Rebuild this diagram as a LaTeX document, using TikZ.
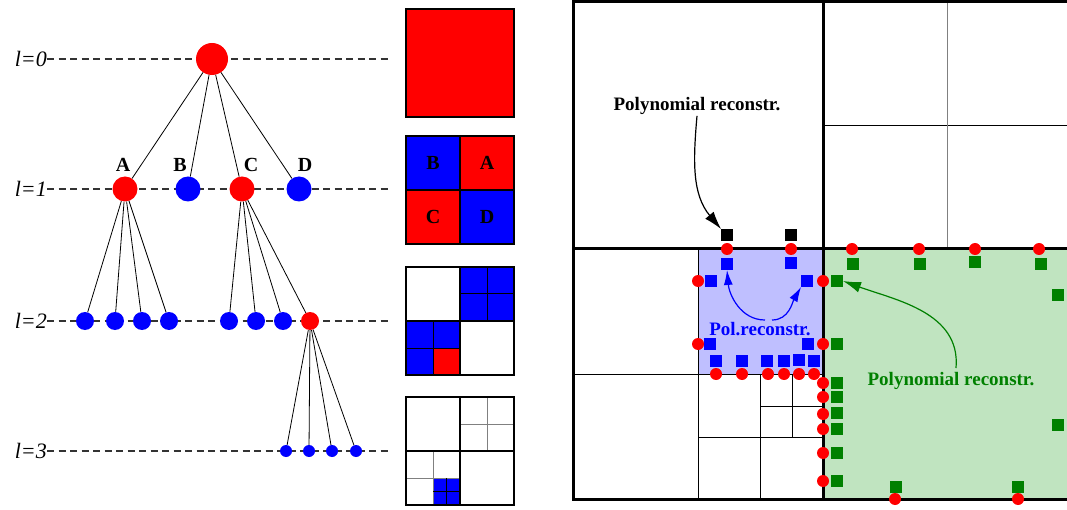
\documentclass[tikz,border=0pt]{standalone}
\usepackage{fontspec}
\setmainfont{Liberation Serif}
\usetikzlibrary{arrows.meta}
\definecolor{azzurrino}{RGB}{191,191,255}
\definecolor{verdino}{RGB}{192,228,192}
\definecolor{verdescuro}{RGB}{0,128,0}

\begin{document}
\begin{tikzpicture}[x=1pt,y=-1pt,
	nodo/.style={circle,inner sep=0pt,minimum size=#1},
	livello/.style={anchor=east,inner sep=0pt,font=\fontsize{22}{24}\selectfont\itshape},
	lettera/.style={font=\fontsize{20}{22}\selectfont\bfseries},
	tratt/.style={dash pattern=on 7pt off 4.5pt,black!80,line width=1.1pt},
	ramo/.style={black,line width=0.8pt},
	pallino/.style={circle,fill=red,inner sep=0pt,minimum size=12pt},
	quadr/.style={fill=#1,inner sep=0pt,minimum size=11.5pt},
	etich/.style={inner sep=1pt,font=\fontsize{19}{22}\selectfont\bfseries},
	freccia/.style={-{Latex[length=18pt,width=11pt]},line width=1.2pt}]
	\useasboundingbox (0,0) rectangle (1067,510);

	% Livelli
	\foreach \l/\y in {0/59,1/189,2/321,3/451}{
		\node[livello] (l\l) at (47,\y) {l=\l};
		\draw[tratt] (l\l.east) -- (390,\y);
	}

	% Albero
	\node[nodo=32pt,fill=red] (radice) at (212,59) {};
	\node[nodo=25pt,fill=red] (A) at (125,189) {};
	\node[nodo=25pt,fill=blue] (B) at (188,189) {};
	\node[nodo=25pt,fill=red] (C) at (242,189) {};
	\node[nodo=25pt,fill=blue] (D) at (299,189) {};
	\node[lettera] (labA) at (123,165) {A};
	\node[lettera] (labB) at (180,165) {B};
	\node[lettera] (labC) at (251,165) {C};
	\node[lettera] (labD) at (305,165) {D};
	\foreach \x [count=\i] in {85,115,142,169}
		\node[nodo=18pt,fill=blue] (a\i) at (\x,321) {};
	\foreach \x [count=\i] in {229,256,283}
		\node[nodo=18pt,fill=blue] (c\i) at (\x,321) {};
	\node[nodo=18pt,fill=red] (c4) at (310,321) {};
	\foreach \x [count=\i] in {286,309,332,356}
		\node[nodo=12pt,fill=blue] (e\i) at (\x,451) {};
	\foreach \f in {A,B,C,D}
		\draw[ramo] (radice) -- (\f);
	\foreach \i in {1,...,4}{
		\draw[ramo] (A) -- (a\i);
		\draw[ramo] (C) -- (c\i);
		\draw[ramo] (c4) -- (e\i);
	}

	% Quadrati a destra dell'albero
	\draw[line width=2pt,fill=red] (406,9) rectangle (514,117);
	\begin{scope}[shift={(406,136)}]
		\fill[blue] (0,0) rectangle (54,54);
		\fill[red] (54,0) rectangle (108,54);
		\fill[red] (0,54) rectangle (54,108);
		\fill[blue] (54,54) rectangle (108,108);
		\draw[line width=1.2pt] (54,0) -- (54,108) (0,54) -- (108,54);
		\draw[line width=2pt] (0,0) rectangle (108,108);
		\node[lettera] (qB) at (27,27) {B};
		\node[lettera] (qA) at (81,27) {A};
		\node[lettera] (qC) at (27,81) {C};
		\node[lettera] (qD) at (81,81) {D};
	\end{scope}
	\begin{scope}[shift={(406,267)}]
		\fill[blue] (54,0) rectangle (108,54);
		\fill[blue] (0,54) rectangle (54,108);
		\fill[red] (27,81) rectangle (54,108);
		\draw[line width=1pt] (81,0) -- (81,54) (54,27) -- (108,27) (27,54) -- (27,108) (0,81) -- (54,81);
		\draw[line width=1.2pt] (54,0) -- (54,108) (0,54) -- (108,54);
		\draw[line width=2pt] (0,0) rectangle (108,108);
	\end{scope}
	\begin{scope}[shift={(406,397)}]
		\fill[blue] (27,81) rectangle (54,108);
		\draw[gray,line width=1pt] (81,0) -- (81,54) (54,27) -- (108,27) (27,54) -- (27,108) (0,81) -- (54,81);
		\draw[line width=0.8pt] (40.5,81) -- (40.5,108) (27,94.5) -- (54,94.5);
		\draw[line width=1.6pt] (54,0) -- (54,108) (0,54) -- (108,54);
		\draw[line width=2pt] (0,0) rectangle (108,108);
	\end{scope}

	% Griglia grande
	\fill[azzurrino] (698,249) rectangle (823,374);
	\fill[verdino] (823,249) rectangle (1073,499);
	\draw[line width=0.8pt] (698,249) -- (698,499) (573,374) -- (823,374)
		(760,374) -- (760,499) (698,437) -- (823,437)
		(792,374) -- (792,437) (760,406) -- (823,406) (823,125) -- (1073,125);
	\draw[gray,line width=1pt] (947,0) -- (947,249);
	\draw[line width=3pt] (573,1.5) rectangle (1073,499);
	\draw[line width=3pt] (823,1.5) -- (823,499) (573,249) -- (1073,249);

	% Quadratini
	\node[quadr=black] (bk1) at (727,235) {};
	\node[quadr=black] (bk2) at (791,235) {};
	\foreach \p [count=\i] in {(727,264),(791,263),(711,281),(807,281),(710,344),(808,344),
		(716,361),(742,361),(767,361),(784,361),(799,360),(814,361)}
		\node[quadr=blue] (bs\i) at \p {};
	\foreach \p [count=\i] in {(853,264),(920,264),(975,262),(1041,264),(837,281),(837,344),
		(837,383),(837,397),(837,413),(837,429),(837,453),(837,481),(896,487),(1018,487),
		(1058,295),(1058,425)}
		\node[quadr=verdescuro] (gs\i) at \p {};

	% Pallini rossi
	\foreach \p [count=\i] in {(727,249),(791,249),(852,249),(919,249),(975,249),(1039,249),
		(698,281),(698,344),(823,281),(823,344),
		(716,374),(742,374),(768,374),(784,374),(799,374),(814,374),
		(823,383),(823,397),(823,414),(823,429),(823,453),(823,481),
		(895,499),(1018,499),(1073,295),(1073,425)}
		\node[pallino] (r\i) at \p {};

	% Etichette e frecce
	\node[etich] (ptxt) at (697,106) {Polynomial reconstr.};
	\node[etich,text=blue] (btxt) at (760,329) {Pol.reconstr.};
	\node[etich,text=verdescuro] (gtxt) at (951,381) {Polynomial reconstr.};
	\draw[freccia] (ptxt.south) to[out=-95,in=130] (bk1.north west);
	\coordinate (bp1) at (765,320);
	\coordinate (bp2) at (772,320);
	\draw[freccia,blue,-{Latex[length=15pt,width=9pt]}] (bp1) to[out=180,in=-85] (bs1.south);
	\draw[freccia,blue,-{Latex[length=15pt,width=9pt]}] (bp2) to[out=0,in=-120] (bs4.south west);
	\coordinate (gp) at (956,368);
	\draw[freccia,verdescuro] (gp) to[out=85,in=-20] (gs5.east);

\end{tikzpicture}
\end{document}
